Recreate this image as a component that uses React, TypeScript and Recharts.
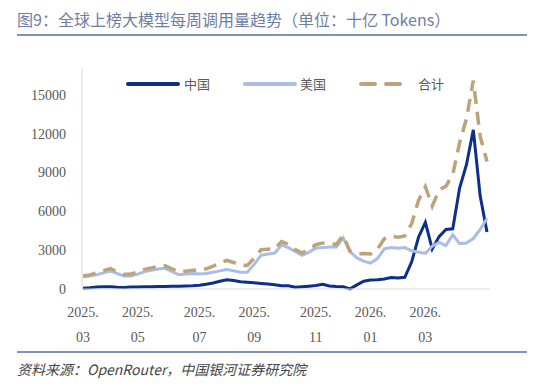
import React from 'react';
import { LineChart, Line, XAxis, YAxis } from 'recharts';

// weekly observations, first week of each point
const weeks = [
  '2025-03-17', '2025-03-24', '2025-03-31', '2025-04-07', '2025-04-14', '2025-04-21', '2025-04-28',
  '2025-05-05', '2025-05-12', '2025-05-19', '2025-05-26', '2025-06-02', '2025-06-09', '2025-06-16',
  '2025-06-23', '2025-06-30', '2025-07-07', '2025-07-14', '2025-07-21', '2025-07-28', '2025-08-04',
  '2025-08-11', '2025-08-18', '2025-08-25', '2025-09-01', '2025-09-08', '2025-09-15', '2025-09-22',
  '2025-09-29', '2025-10-06', '2025-10-13', '2025-10-20', '2025-10-27', '2025-11-03', '2025-11-10',
  '2025-11-17', '2025-11-24', '2025-12-01', '2025-12-08', '2025-12-15', '2025-12-22', '2025-12-29',
  '2026-01-05', '2026-01-12', '2026-01-19', '2026-01-26', '2026-02-02', '2026-02-09', '2026-02-16',
  '2026-02-23', '2026-03-02', '2026-03-09', '2026-03-16', '2026-03-23', '2026-03-30', '2026-04-06',
  '2026-04-13', '2026-04-20', '2026-04-27', '2026-05-04',
];

const china = [
  50, 90, 150, 170, 180, 130, 120, 150, 160, 170, 180, 190, 200, 210, 220, 230, 250, 290, 360, 470,
  600, 720, 650, 560, 520, 480, 430, 380, 320, 260, 250, 140, 180, 220, 270, 360, 240, 200, 180, 10,
  320, 600, 700, 720, 780, 880, 850, 900, 2100, 4000, 5150, 3100, 4050, 4600, 4650, 7800, 9600, 12300, 7200, 4400,
];

const usa = [
  950, 1000, 1100, 1250, 1390, 1200, 1000, 1000, 1150, 1350, 1450, 1550, 1600, 1350, 1100, 1150, 1200, 1150, 1200, 1300,
  1400, 1500, 1400, 1300, 1300, 1900, 2600, 2700, 2780, 3400, 3200, 2900, 2600, 2850, 3150, 3200, 3250, 3250, 3950, 2900,
  2400, 2150, 2000, 2350, 3100, 3200, 3150, 3200, 2950, 2850, 2750, 3300, 3600, 3350, 4200, 3500, 3550, 3900, 4600, 5450,
];

const total = [
  1000, 1090, 1250, 1420, 1570, 1330, 1120, 1150, 1310, 1520, 1630, 1740, 1800, 1560, 1320, 1380, 1450, 1440, 1560, 1770,
  2000, 2220, 2050, 1860, 1820, 2380, 3030, 3080, 3100, 3660, 3450, 3040, 2780, 3070, 3420, 3560, 3490, 3450, 4130, 2910,
  2720, 2750, 2700, 3070, 3880, 4080, 4000, 4100, 5050, 6850, 7900, 6400, 7650, 7950, 8850, 11300, 13150, 16100, 11800, 9850,
];

const tickWeeks = ['2025-03-17', '2025-05-12', '2025-07-14', '2025-09-08', '2025-11-10', '2026-01-05', '2026-03-02'];
const tickYears = ['2025.', '2025.', '2025.', '2025.', '2025.', '2026.', '2026.'];
const tickMonths = ['03', '05', '07', '09', '11', '01', '03'];
const yTicks = [0, 3000, 6000, 9000, 12000, 15000];

const NAVY = '#0c2f8a';
const LIGHT = '#a9bde5';
const TAN = '#bca37a';
const numFont = '"Liberation Serif", "DejaVu Serif", serif';
const cjkFont = '"Noto Sans CJK SC", "Noto Sans", sans-serif';

const data = weeks.map((w, i) => ({ week: w, china: china[i], usa: usa[i], total: total[i] }));

const WeekTick = (props: any) => {
  const { x, y, payload } = props;
  const k = tickWeeks.indexOf(payload.value);
  if (k < 0) return null;
  return (
    <g transform={`translate(${x},${y})`}>
      <text textAnchor="middle" fontFamily={numFont} fontSize={14} fill="#595959">
        <tspan x={0} y={28}>{tickYears[k]}</tspan>
        <tspan x={0} y={53}>{tickMonths[k]}</tspan>
      </text>
    </g>
  );
};

const ChartLegend = () => (
  <svg width={538} height={20} style={{ position: 'absolute', left: 0, top: 74 }}>
    <line x1={128} y1={10} x2={178} y2={10} stroke={NAVY} strokeWidth={4} strokeLinecap="round" />
    <text x={184} y={15} fontFamily={cjkFont} fontSize={13} fill="#595959">中国</text>
    <line x1={245} y1={10} x2={295} y2={10} stroke={LIGHT} strokeWidth={4} strokeLinecap="round" />
    <text x={300} y={15} fontFamily={cjkFont} fontSize={13} fill="#595959">美国</text>
    <line x1={361} y1={10} x2={404} y2={10} stroke={TAN} strokeWidth={4} strokeDasharray="14 11" strokeLinecap="round" />
    <text x={418} y={15} fontFamily={cjkFont} fontSize={13} fill="#595959">合计</text>
  </svg>
);

export default function App() {
  return (
    <div style={{ position: 'absolute', left: 0, top: 0, width: 538, height: 392, background: '#fff' }}>
      <div style={{ position: 'absolute', left: 17, top: 9, fontFamily: cjkFont, fontSize: 16, color: '#6d7ea3', whiteSpace: 'nowrap', lineHeight: '20px' }}>
        图9：全球上榜大模型每周调用量趋势（单位：十亿 Tokens）
      </div>
      <div style={{ position: 'absolute', left: 17, top: 34, width: 510, height: 2, background: '#7f92b8' }} />

      <LineChart width={538} height={392} data={data} margin={{ top: 69, right: 48, bottom: 43, left: 0 }}
        style={{ position: 'absolute', left: 0, top: 0 }}>
        <XAxis dataKey="week" ticks={tickWeeks} interval={0} tick={<WeekTick />} height={60}
          axisLine={{ stroke: '#d9d9d9' }} tickLine={false} tickSize={0} tickMargin={0}
          padding={{ left: 1, right: 3 }} />
        <YAxis domain={[0, 17000]} ticks={yTicks} width={82} axisLine={{ stroke: '#d9d9d9' }}
          tickLine={false} tickSize={0} tickMargin={16}
          tick={{ fontFamily: numFont, fontSize: 14, fill: '#595959' }} />
        <Line type="linear" dataKey="china" stroke={NAVY} strokeWidth={3} dot={false} isAnimationActive={false} />
        <Line type="linear" dataKey="usa" stroke={LIGHT} strokeWidth={3} dot={false} isAnimationActive={false} />
        <Line type="linear" dataKey="total" stroke={TAN} strokeWidth={3.5} strokeDasharray="13 8" dot={false} isAnimationActive={false} />
      </LineChart>

      <ChartLegend />

      <div style={{ position: 'absolute', left: 17, top: 351, width: 510, height: 2, background: '#7f92b8' }} />
      <div style={{ position: 'absolute', left: 17, top: 359, fontFamily: cjkFont, fontSize: 14, fontStyle: 'italic', color: '#444', whiteSpace: 'nowrap', lineHeight: '20px' }}>
        资料来源：OpenRouter，中国银河证券研究院
      </div>
    </div>
  );
}
